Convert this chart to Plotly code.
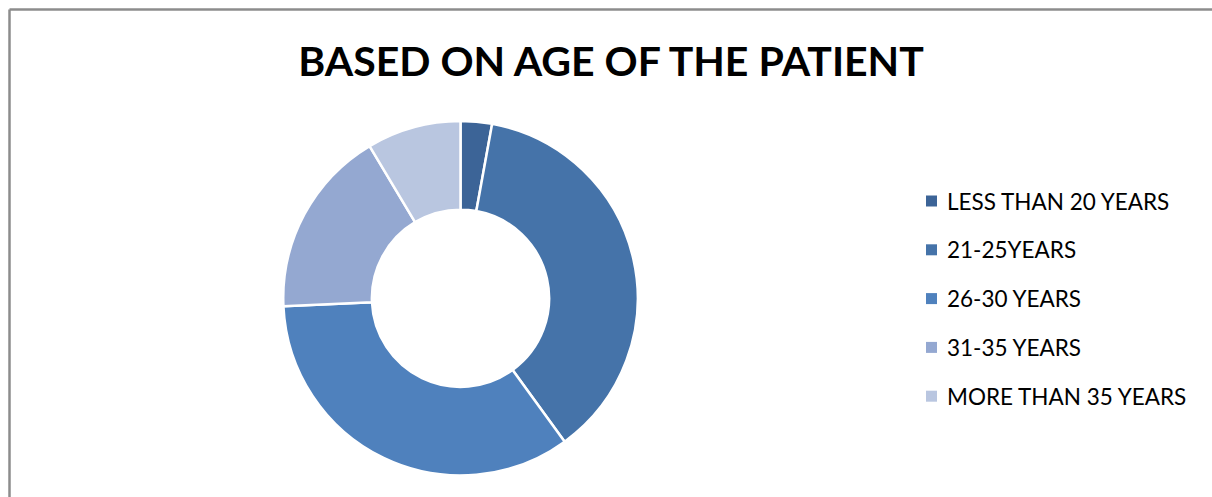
import plotly.graph_objects as go

categories = ["LESS THAN 20 YEARS", "21-25YEARS", "26-30 YEARS", "31-35 YEARS", "MORE THAN 35 YEARS"]
values = [1, 13, 12, 6, 3]
colors = ["#3C6497", "#4573A9", "#4F81BD", "#94A8D1", "#B9C6E0"]

W, H = 1212, 497

fig = go.Figure()
fig.add_trace(go.Pie(
    labels=categories,
    values=values,
    hole=0.5,
    sort=False,
    direction="clockwise",
    rotation=0,
    marker=dict(colors=colors, line=dict(color="white", width=2.5)),
    textinfo="none",
    hoverinfo="label+value+percent",
    showlegend=False,
    domain=dict(x=[283 / W, 638 / W], y=[1 - 475.5 / H, 1 - 121 / H]),
))

# legend drawn as annotations + swatches (to reproduce the wide row spacing)
shapes = [
    dict(type="line", xref="paper", yref="paper", x0=9.5 / W, x1=1.01, y0=1 - 9.5 / H, y1=1 - 9.5 / H,
         line=dict(color="#8c8c8c", width=2.5)),
    dict(type="line", xref="paper", yref="paper", x0=9.5 / W, x1=9.5 / W, y0=1 - 9.5 / H, y1=-0.01,
         line=dict(color="#8c8c8c", width=2.5)),
]
annotations = []
row0, gap = 201, 48.8
for i, (lab, col) in enumerate(zip(categories, colors)):
    yc = row0 + i * gap
    shapes.append(dict(type="rect", xref="paper", yref="paper",
                       x0=926 / W, x1=937 / W, y0=1 - (yc + 5.5) / H, y1=1 - (yc - 5.5) / H,
                       fillcolor=col, line=dict(width=0)))
    annotations.append(dict(text=lab, xref="paper", yref="paper", x=945 / W, y=1 - yc / H,
                            xanchor="left", yanchor="middle", showarrow=False,
                            font=dict(family="Lato", size=22.5, color="black")))

fig.update_layout(
    width=W, height=H,
    margin=dict(l=0, r=0, t=0, b=0),
    paper_bgcolor="white",
    plot_bgcolor="white",
    title=dict(
        text="<b>BASED ON AGE OF THE PATIENT</b>",
        font=dict(family="Lato", size=41, color="black"),
        x=611 / W, xanchor="center",
        y=1 - 62 / H, yanchor="middle",
    ),
    shapes=shapes,
    annotations=annotations,
)

fig.write_html("out.html")
